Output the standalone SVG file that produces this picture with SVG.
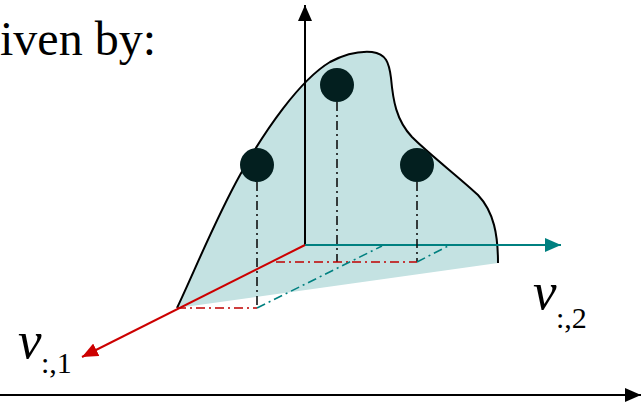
<svg xmlns="http://www.w3.org/2000/svg" width="644" height="404" viewBox="0 0 644 404">
<style>
.txt{font-family:"Liberation Serif","Times New Roman",serif;fill:#000}
.v{font-style:italic;font-size:53px}
.sub{font-size:30px}
.ax{fill:none;stroke:#000;stroke-width:2}
.dd{fill:none;stroke-width:1.6;stroke-dasharray:9 4 2 4}
.dk{stroke:#111}
.rd{stroke:#c00000}
.tl{stroke:#008080}
.pt{fill:#031f1f}
</style>
<defs>
<marker id="ahk" viewBox="0 0 16 14" refX="16" refY="7" markerWidth="16" markerHeight="14" markerUnits="userSpaceOnUse" orient="auto"><path d="M0,0 L16,7 L0,14 z" fill="#000"/></marker>
<marker id="ahr" viewBox="0 0 16 14" refX="16" refY="7" markerWidth="16" markerHeight="14" markerUnits="userSpaceOnUse" orient="auto"><path d="M0,0 L16,7 L0,14 z" fill="#cc0000"/></marker>
<marker id="aht" viewBox="0 0 16 14" refX="16" refY="7" markerWidth="16" markerHeight="14" markerUnits="userSpaceOnUse" orient="auto"><path d="M0,0 L16,7 L0,14 z" fill="#008080"/></marker>
</defs>
<text class="txt" x="0" y="55" font-size="48">iven by:</text>
<g id="surface">
<path d="M177,308 C195,270 215,220 240,175 C265,130 300,80 330,62 C345,54 360,51 372,52 C386,54 389,62 391,78 C393,100 396,120 412,137 C430,155 460,178 478,195 C494,212 498,235 498,263 Z" fill="#c4e2e2" stroke="none"/>
<path d="M177,308 C195,270 215,220 240,175 C265,130 300,80 330,62 C345,54 360,51 372,52 C386,54 389,62 391,78 C393,100 396,120 412,137 C430,155 460,178 478,195 C494,212 498,235 498,263" fill="none" stroke="#000" stroke-width="2"/>
</g>
<g id="connectors">
<line class="ax" x1="0" y1="395" x2="641" y2="395" marker-end="url(#ahk)"/>
<line class="ax" x1="305" y1="245" x2="305" y2="5" marker-end="url(#ahk)"/>
<line x1="305" y1="245" x2="561" y2="245" stroke="#008080" stroke-width="2" marker-end="url(#aht)"/>
<line x1="305" y1="245" x2="82" y2="357" stroke="#cc0000" stroke-width="2" marker-end="url(#ahr)"/>
<line class="dd dk" x1="257" y1="182" x2="257" y2="308"/>
<line class="dd dk" x1="337" y1="102" x2="337" y2="262"/>
<line class="dd dk" x1="417" y1="182" x2="417" y2="262"/>
<line class="dd rd" x1="177" y1="308" x2="257" y2="308"/>
<line class="dd rd" x1="276" y1="262" x2="417" y2="262"/>
<line class="dd tl" x1="257" y1="308" x2="382" y2="246"/>
<line class="dd tl" x1="417" y1="262" x2="450" y2="245"/>
</g>
<g id="point1"><circle class="pt" cx="337" cy="85" r="17"/></g>
<g id="point2"><circle class="pt" cx="257" cy="165" r="17"/></g>
<g id="point3"><circle class="pt" cx="417" cy="165" r="17"/></g>
<g id="label-v1"><text class="txt v" x="18" y="358">v</text><text class="txt sub" x="41" y="373">:,1</text></g>
<g id="label-v2"><text class="txt v" x="533" y="309">v</text><text class="txt sub" x="556" y="328">:,2</text></g>
</svg>
